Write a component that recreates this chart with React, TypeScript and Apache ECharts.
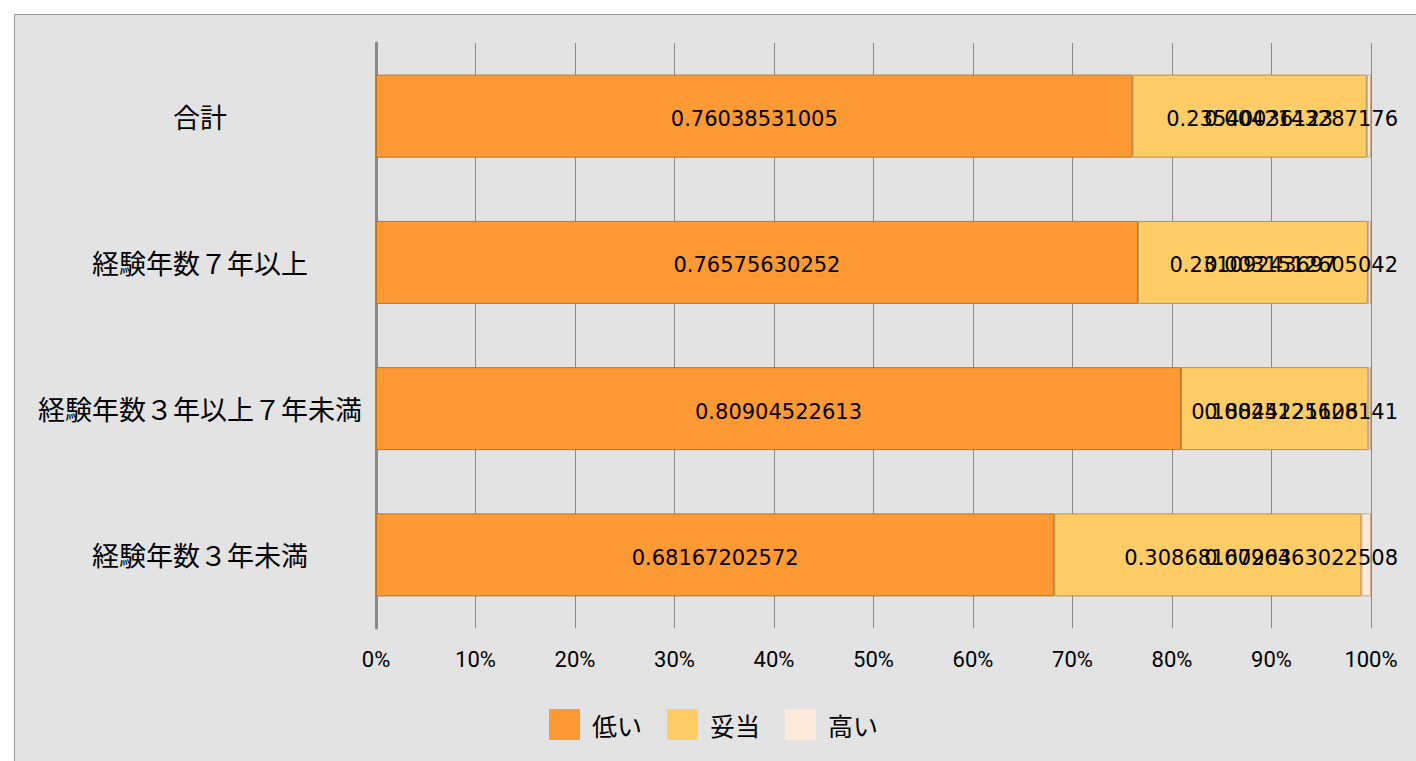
import React, { useEffect, useRef } from "react";
import * as echarts from "echarts";

const categories = ["合計", "経験年数７年以上", "経験年数３年以上７年未満", "経験年数３年未満"];
const seriesNames = ["低い", "妥当", "高い"];
const lowValues = [0.76038531005, 0.76575630252, 0.80904522613, 0.68167202572];
const midValues = [0.23540036123, 0.23109243697, 0.18844221106, 0.30868167203];
const highValues = [0.0042143287176, 0.0031512605042, 0.0025125628141, 0.0096463022508];
const xTicks = [0, 0.1, 0.2, 0.3, 0.4, 0.5, 0.6, 0.7, 0.8, 0.9, 1];

const colors = ["#FF9933", "#FFCC66", "#FDE9D9"];
const borders = ["#b8742a", "#b8924a", "#c9a88e"];

const LABEL_LIMIT = 1383;

export default function App() {
  const ref = useRef<HTMLDivElement>(null);
  useEffect(() => {
    if (!ref.current) return;
    const chart = echarts.init(ref.current, undefined, { renderer: "svg" });
    const values = [lowValues, midValues, highValues];
    const dataFont = {
      color: "#000",
      fontSize: 21,
      fontFamily: "DejaVu Sans",
    };
    chart.setOption({
      animation: false,
      backgroundColor: "#E3E3E3",
      grid: { left: 361, right: 46, top: 28, height: 585, containLabel: false },
      legend: {
        data: seriesNames,
        left: 529,
        top: 689,
        itemWidth: 31,
        itemHeight: 31,
        itemGap: 25,
        icon: "rect",
        itemStyle: { borderWidth: 0 },
        textStyle: {
          color: "#000",
          fontSize: 25,
          fontFamily: "Noto Sans CJK JP",
          padding: [0, 0, 0, 7],
        },
      },
      xAxis: {
        type: "value",
        min: 0,
        max: 1,
        interval: 0.1,
        axisLine: { show: false },
        axisTick: { show: false },
        splitLine: { show: true, lineStyle: { color: "#888", width: 1 } },
        axisLabel: {
          color: "#000",
          fontSize: 22,
          fontFamily: "Roboto",
          margin: 20,
          formatter: (v: number) => `${Math.round(v * 100)}%`,
          customValues: xTicks,
        },
      },
      yAxis: {
        type: "category",
        data: categories,
        inverse: true,
        axisLine: { show: true, lineStyle: { color: "#888", width: 3 } },
        axisTick: { show: false },
        axisLabel: {
          color: "#000",
          fontSize: 27,
          fontFamily: "Noto Sans CJK JP",
          margin: 176,
          align: "center",
        },
      },
      series: seriesNames.map((name, i) => ({
        name,
        type: "bar",
        stack: "total",
        barWidth: 83,
        data: values[i],
        itemStyle: { color: colors[i], borderColor: borders[i], borderWidth: 1 },
        label: {
          show: true,
          position: "inside",
          offset: [0, 3],
          ...dataFont,
          formatter: (p: any) => String(p.value),
        },
        labelLayout:
          i === 2
            ? (p: any) => {
                const right = p.labelRect.x + p.labelRect.width;
                return { dx: Math.min(0, LABEL_LIMIT - right), dy: 3 };
              }
            : undefined,
      })),
    });
    return () => chart.dispose();
  }, []);
  return (
    <div
      style={{
        position: "fixed",
        left: 14,
        top: 14,
        width: 1402,
        height: 747,
        borderTop: "1px solid #999",
        borderLeft: "1px solid #999",
        background: "#E3E3E3",
      }}
    >
      <div ref={ref} style={{ width: 1402, height: 747 }} />
    </div>
  );
}
